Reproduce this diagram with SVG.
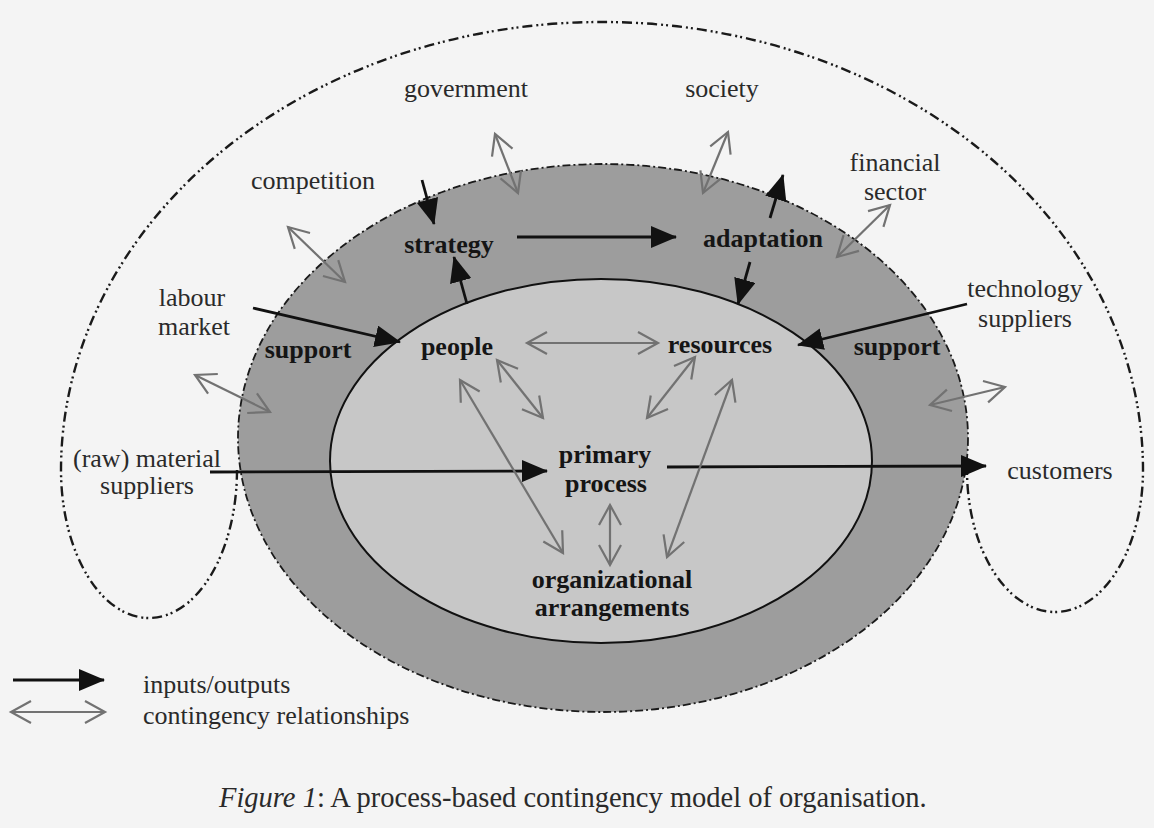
<svg xmlns="http://www.w3.org/2000/svg" width="1154" height="828" viewBox="0 0 1154 828">
<style>
.lbl{font-family:"Liberation Serif","Times New Roman",serif;font-size:26px;fill:#2a2a2a;text-anchor:middle}
.bold{font-weight:bold;fill:#151515}
.leg{font-family:"Liberation Serif","Times New Roman",serif;font-size:26px;fill:#2a2a2a}
.io{stroke:#111;stroke-width:2.8;fill:none;marker-end:url(#blk)}
.cont{stroke:#727272;stroke-width:2.2;fill:none;marker-start:url(#gry);marker-end:url(#gry)}
.dd{fill:none;stroke:#1a1a1a;stroke-width:2.4;stroke-dasharray:10 4 2 3 2 4}
</style>
<defs>
<marker id="blk" viewBox="0 0 26 22" refX="25" refY="11" markerWidth="26" markerHeight="22" markerUnits="userSpaceOnUse" orient="auto">
<path d="M0,0 L26,11 L0,22 z" fill="#111"/>
</marker>
<marker id="gry" viewBox="-2 -2 26 26" refX="20" refY="11" markerWidth="26" markerHeight="26" markerUnits="userSpaceOnUse" orient="auto-start-reverse" overflow="visible">
<path d="M0,0 L20,11 L0,22" fill="none" stroke="#727272" stroke-width="2.2"/>
</marker>
</defs>
<rect x="0" y="0" width="1154" height="828" fill="#f4f4f4"/>

<g id="environment">
<path class="dd" d="M237 470 A 88 148 0 0 1 61 470 A 541 448 0 0 1 1143 470 A 88 142 0 0 1 967 470"/>
</g>
<g id="organisation-ring">
<ellipse cx="603" cy="438" rx="365" ry="274" fill="#9d9d9d" stroke="#1a1a1a" stroke-width="1.8" stroke-dasharray="8 3 2 3"/>
</g>
<g id="core">
<ellipse cx="601" cy="461" rx="271" ry="182" fill="#c7c7c7" stroke="#111" stroke-width="2"/>
</g>

<g id="connectors">
<line class="io" x1="422" y1="180" x2="434" y2="224"/>
<line class="io" x1="467" y1="304" x2="454" y2="257"/>
<line class="io" x1="517" y1="237" x2="676" y2="237"/>
<line class="io" x1="770" y1="218" x2="783" y2="175"/>
<line class="io" x1="750" y1="262" x2="738" y2="304"/>
<line class="io" x1="253" y1="308" x2="400" y2="342"/>
<line class="io" x1="967" y1="304" x2="798" y2="345"/>
<line class="io" x1="210" y1="472" x2="547" y2="471"/>
<line class="io" x1="667" y1="467" x2="986" y2="466"/>
<line class="cont" x1="495" y1="134" x2="518" y2="193"/>
<line class="cont" x1="728" y1="132" x2="703" y2="193"/>
<line class="cont" x1="288" y1="227" x2="345" y2="282"/>
<line class="cont" x1="890" y1="205" x2="837" y2="257"/>
<line class="cont" x1="195" y1="375" x2="270" y2="412"/>
<line class="cont" x1="1005" y1="387" x2="930" y2="405"/>
<line class="cont" x1="527" y1="343" x2="658" y2="343"/>
<line class="cont" x1="497" y1="360" x2="543" y2="418"/>
<line class="cont" x1="460" y1="380" x2="563" y2="553"/>
<line class="cont" x1="695" y1="357" x2="647" y2="418"/>
<line class="cont" x1="732" y1="380" x2="667" y2="557"/>
<line class="cont" x1="610" y1="505" x2="610" y2="565"/>
</g>

<g id="government"><text class="lbl" x="466" y="97">government</text></g>
<g id="society"><text class="lbl" x="722" y="97">society</text></g>
<g id="competition"><text class="lbl" x="313" y="189">competition</text></g>
<g id="financial-sector"><text class="lbl" x="895" y="171">financial</text><text class="lbl" x="895" y="200">sector</text></g>
<g id="labour-market"><text class="lbl" x="192" y="306">labour</text><text class="lbl" x="194" y="335">market</text></g>
<g id="technology-suppliers"><text class="lbl" x="1025" y="297">technology</text><text class="lbl" x="1025" y="327">suppliers</text></g>
<g id="material-suppliers"><text class="lbl" x="147" y="467">(raw) material</text><text class="lbl" x="147" y="494">suppliers</text></g>
<g id="customers"><text class="lbl" x="1060" y="479">customers</text></g>
<g id="support-left"><text class="lbl bold" x="308" y="358">support</text></g>
<g id="support-right"><text class="lbl bold" x="897" y="355">support</text></g>
<g id="strategy"><text class="lbl bold" x="449" y="253">strategy</text></g>
<g id="adaptation"><text class="lbl bold" x="763" y="247">adaptation</text></g>
<g id="people"><text class="lbl bold" x="457" y="355">people</text></g>
<g id="resources"><text class="lbl bold" x="720" y="353">resources</text></g>
<g id="primary-process"><text class="lbl bold" x="605" y="463">primary</text><text class="lbl bold" x="606" y="492">process</text></g>
<g id="organizational-arrangements"><text class="lbl bold" x="612" y="588">organizational</text><text class="lbl bold" x="612" y="616">arrangements</text></g>

<g id="legend">
<line class="io" x1="13" y1="680" x2="104" y2="680"/>
<line class="cont" x1="11" y1="712" x2="105" y2="712"/>
<text class="leg" x="143" y="693">inputs/outputs</text>
<text class="leg" x="143" y="724">contingency relationships</text>
</g>
<g id="caption">
<text class="leg" x="219" y="807" style="font-size:28.5px"><tspan font-style="italic">Figure 1</tspan>: A process-based contingency model of organisation.</text>
</g>
</svg>
